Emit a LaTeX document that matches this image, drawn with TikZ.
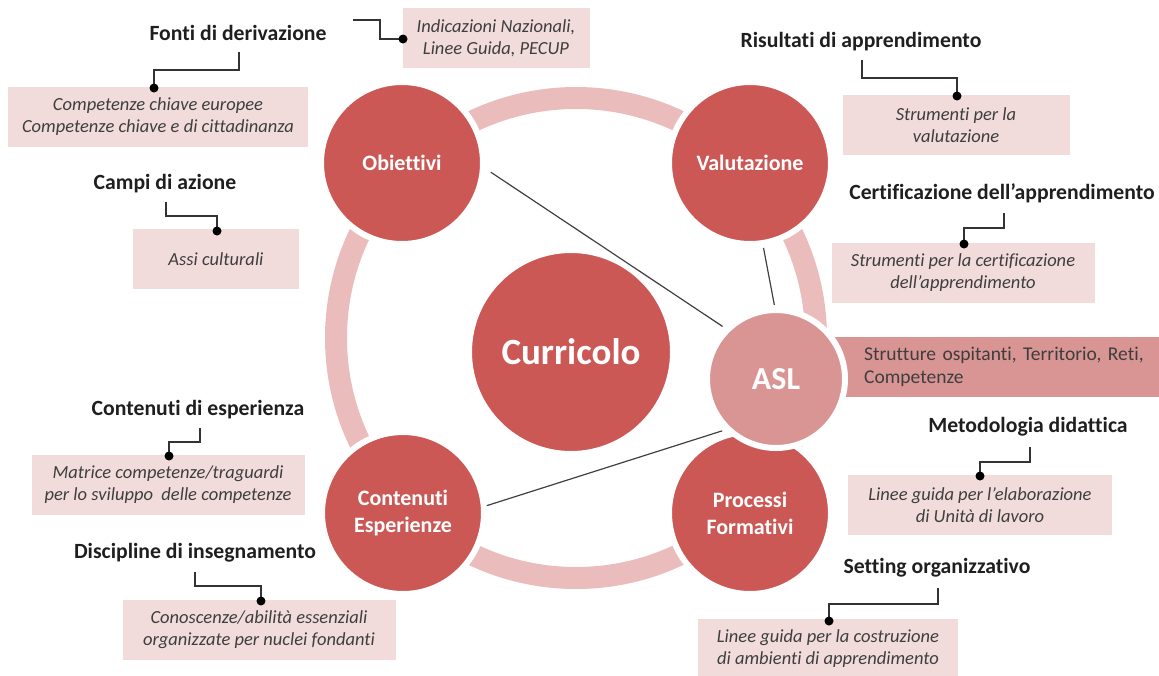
\documentclass[tikz,border=0pt]{standalone}
\usepackage{fontspec}
\setmainfont{Carlito}[Ligatures=NoCommon]
\definecolor{discred}{RGB}{204,88,86}
\definecolor{aslpink}{RGB}{217,149,148}
\definecolor{ringpink}{RGB}{234,189,188}
\definecolor{boxpink}{RGB}{242,220,219}
\definecolor{inkgray}{RGB}{62,62,62}
\begin{document}
\begin{tikzpicture}[x=1pt,y=-1pt,
    disc/.style={circle,fill=discred,draw=white,line width=6pt,inner sep=0pt,minimum size=162pt,text=white,align=center,font=\fontsize{22}{27}\selectfont\bfseries},
    note/.style={fill=boxpink,inner sep=0pt,minimum height=60pt,align=center,text=inkgray,font=\fontsize{18.5}{22}\selectfont\itshape},
    title/.style={text=black!88,font=\fontsize{21.7}{24}\selectfont\bfseries},
    lead/.style={draw=black!80,line width=1.5pt},
    link/.style={draw=black!75,line width=1.2pt}]
            \useasboundingbox (0,0) rectangle (1159,675);
            \draw[ringpink,line width=22pt] (576,338) circle[radius=240pt];
            \node[note,minimum width=300pt] (europa) at (158,117) {Competenze chiave europee\\Competenze chiave e di cittadinanza};
            \node[note,minimum width=187pt] (indicazioni) at (496,38) {Indicazioni Nazionali,\\Linee Guida, PECUP};
            \node[note,minimum width=227pt] (strumval) at (956,125) {Strumenti per la\\valutazione};
            \node[note,minimum width=263pt] (strumcert) at (963,273) {Strumenti per la certificazione\\dell'apprendimento};
            \node[note,minimum width=166pt] (assi) at (216,259) {Assi culturali};
            \node[note,minimum width=273pt] (matrice) at (168,485) {Matrice competenze/traguardi\\per lo sviluppo\ \ delle competenze};
            \node[note,minimum width=273pt] (conoscenze) at (259,630) {Conoscenze/abilità essenziali\\organizzate per nuclei fondanti};
            \node[note,minimum width=264pt] (elaborazione) at (980,505) {Linee guida per l'elaborazione\\di Unità di lavoro};
            \node[note,minimum width=260pt] (costruzione) at (828,649) {Linee guida per la costruzione\\di ambienti di apprendimento};
            \node[fill=aslpink,anchor=west,inner xsep=29pt,inner ysep=0pt,minimum height=60pt,text width=300pt,align=left,text=inkgray,font=\fontsize{19.5}{23}\selectfont] (territorio) at (835,367) {Strutture ospitanti, Territorio, Reti,\\Competenze};
            \node[title] (fonti) at (238,33) {Fonti di derivazione};
            \node[title] (risultati) at (861,42) {Risultati di apprendimento};
            \node[title] (certificazione) at (1002,193) {Certificazione dell'apprendimento};
            \node[title] (campi) at (165,184) {Campi di azione};
            \node[title] (esperienza) at (198,410) {Contenuti di esperienza};
            \node[title] (discipline) at (195,553) {Discipline di insegnamento};
            \node[title] (metodologia) at (1028,427) {Metodologia didattica};
            \node[title] (setting) at (937,568) {Setting organizzativo};
            \coordinate (europadot) at (154,88);
            \coordinate (indicazionidot) at (403,39);
            \coordinate (strumvaldot) at (957,96);
            \coordinate (strumcertdot) at (964,244);
            \coordinate (assidot) at (217,231);
            \coordinate (matricedot) at (169,456);
            \coordinate (conoscenzedot) at (261,601);
            \coordinate (elaborazionedot) at (980,476);
            \coordinate (costruzionedot) at (829,621);
            \draw[lead] (europadot) |- (239,70) -- (239,52);
            \draw[lead] (indicazionidot) -- (380,39) |- (353,20);
            \draw[lead] (strumvaldot) |- (862,78) -- (862,60);
            \draw[lead] (strumcertdot) |- (1004,228) -- (1004,213);
            \draw[lead] (assidot) |- (166,216) -- (166,202);
            \draw[lead] (matricedot) |- (200,442) -- (200,428);
            \draw[lead] (conoscenzedot) |- (195,586) -- (195,572);
            \draw[lead] (elaborazionedot) |- (1030,462) -- (1030,447);
            \draw[lead] (costruzionedot) |- (938,604) -- (938,588);
            \fill (europadot) circle[radius=4.5pt];
            \fill (indicazionidot) circle[radius=4.5pt];
            \fill (strumvaldot) circle[radius=4.5pt];
            \fill (strumcertdot) circle[radius=4.5pt];
            \fill (assidot) circle[radius=4.5pt];
            \fill (matricedot) circle[radius=4.5pt];
            \fill (conoscenzedot) circle[radius=4.5pt];
            \fill (elaborazionedot) circle[radius=4.5pt];
            \fill (costruzionedot) circle[radius=4.5pt];
            \node[disc] (obiettivi) at (402,163) {Obiettivi};
            \node[disc] (valutazione) at (750,163) {Valutazione};
            \node[disc] (contenuti) at (403,513) {Contenuti\\Esperienze};
            \node[disc] (processi) at (750,513) {Processi\\Formativi};
            \node[disc,minimum size=204pt,font=\fontsize{37}{40}\selectfont\bfseries] (curricolo) at (571,352) {Curricolo};
            \node[disc,fill=aslpink,minimum size=138pt,font=\fontsize{32}{36}\selectfont\bfseries] (asl) at (776,379) {ASL};
            \draw[link,shorten <=6pt,shorten >=3pt] (obiettivi.-4) -- (asl.135);
            \draw[link,shorten <=2pt,shorten >=2pt] (valutazione.-81) -- (asl.91);
            \draw[link,shorten >=3pt] (contenuti.5) -- (asl.-135);
        \end{tikzpicture}
\end{document}
